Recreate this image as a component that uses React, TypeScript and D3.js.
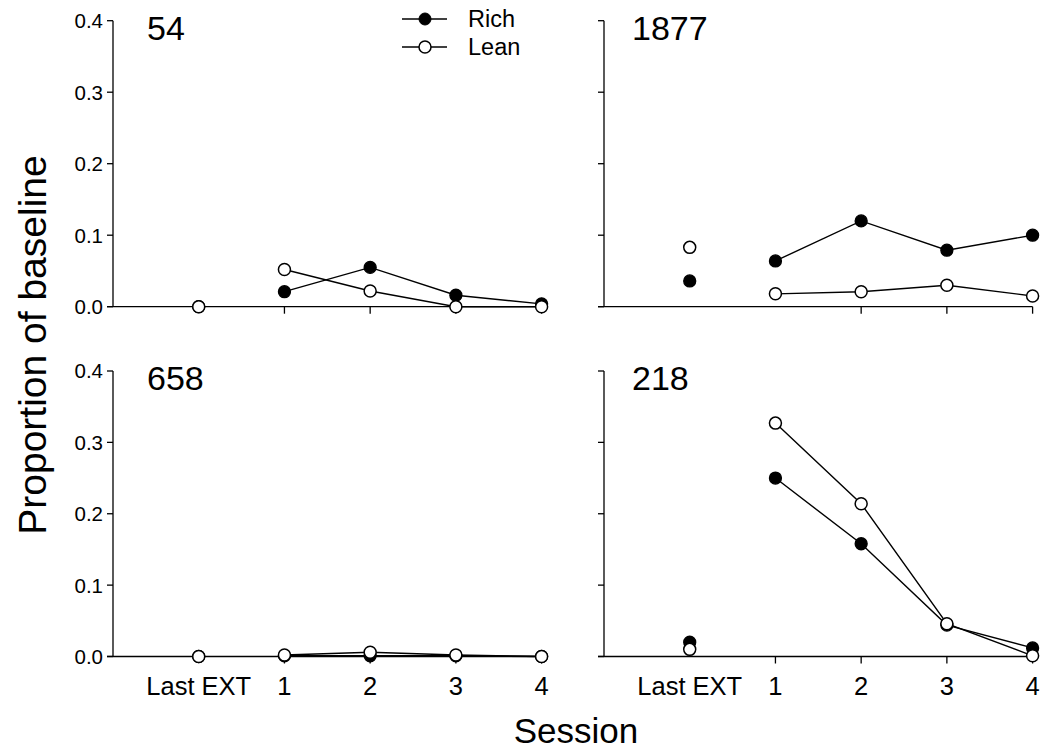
import React from "react";
import * as d3 from "d3";

const xLabels = ["Last EXT", "1", "2", "3", "4"];
const xPositions = [0, 1, 2, 3, 4];
const yTicks = [0, 0.1, 0.2, 0.3, 0.4];

const subjects = ["54", "1877", "658", "218"];
const rich54 = [0, 0.021, 0.055, 0.016, 0.004];
const lean54 = [0, 0.052, 0.022, 0, 0];
const rich1877 = [0.036, 0.064, 0.12, 0.079, 0.1];
const lean1877 = [0.083, 0.018, 0.021, 0.03, 0.015];
const rich658 = [0, 0.001, 0.001, 0.001, 0];
const lean658 = [0, 0.002, 0.006, 0.002, 0];
const rich218 = [0.02, 0.25, 0.158, 0.044, 0.012];
const lean218 = [0.01, 0.327, 0.214, 0.046, 0.001];

const panelData = [
  { rich: rich54, lean: lean54, xTicks: [1, 2, 3, 4], col: 0, row: 0 },
  { rich: rich1877, lean: lean1877, xTicks: [2, 3, 4], col: 1, row: 0 },
  { rich: rich658, lean: lean658, xTicks: [1, 2, 3, 4], col: 0, row: 1 },
  { rich: rich218, lean: lean218, xTicks: [1, 2, 3, 4], col: 1, row: 1 },
];

const FONT = "'Liberation Sans', Arial, Helvetica, sans-serif";
const colX = [113, 604];
const rowY = [
  [306.7, 20.7],
  [656.5, 371],
];
const PW = 428.6;
const R = 6;

function Panel({ idx }: { idx: number }) {
  const p = panelData[idx];
  const x = d3.scaleLinear().domain([-1, 4]).range([colX[p.col], colX[p.col] + PW]);
  const y = d3.scaleLinear().domain([0, 0.4]).range(rowY[p.row]);
  const line = d3
    .line<number>()
    .x((_, i) => x(xPositions[i + 1]))
    .y((d) => y(d));
  const x0 = colX[p.col];
  const showYLabels = p.col === 0;
  const showXLabels = p.row === 1;
  return (
    <g>
      <line x1={x0} x2={x0} y1={y(0.4)} y2={y(0)} stroke="#000" strokeWidth={1.3} />
      <line x1={x0 - 6} x2={x(4)} y1={y(0)} y2={y(0)} stroke="#000" strokeWidth={1.3} />
      {yTicks.map((t) => (
        <g key={t}>
          <line x1={x0 - 6} x2={x0} y1={y(t)} y2={y(t)} stroke="#000" strokeWidth={1.3} />
          {showYLabels && (
            <text x={x0 - 10} y={y(t)} dy="0.36em" textAnchor="end" fontSize={20.5} fontFamily={FONT}>
              {t.toFixed(1)}
            </text>
          )}
        </g>
      ))}
      {p.xTicks.map((t) => (
        <line key={t} x1={x(t)} x2={x(t)} y1={y(0)} y2={y(0) + 7} stroke="#000" strokeWidth={1.3} />
      ))}
      {showXLabels &&
        xPositions.map((t, i) => (
          <text key={t} x={x(t)} y={695} textAnchor="middle" fontSize={25.5} fontFamily={FONT}>
            {xLabels[i]}
          </text>
        ))}
      <text
        x={x0 + (p.col === 0 ? 34 : 28)}
        y={p.row === 0 ? 40 : 390}
        fontSize={34}
        fontFamily={FONT}
      >
        {subjects[idx]}
      </text>
      <path d={line(p.rich.slice(1)) || ""} fill="none" stroke="#000" strokeWidth={1.4} />
      <path d={line(p.lean.slice(1)) || ""} fill="none" stroke="#000" strokeWidth={1.4} />
      {p.rich.map((v, i) => (
        <circle key={"r" + i} cx={x(xPositions[i])} cy={y(v)} r={R} fill="#000" stroke="#000" strokeWidth={1.3} />
      ))}
      {p.lean.map((v, i) => (
        <circle key={"l" + i} cx={x(xPositions[i])} cy={y(v)} r={R} fill="#fff" stroke="#000" strokeWidth={1.5} />
      ))}
    </g>
  );
}

export default function App() {
  return (
    <svg
      width={1046}
      height={750}
      style={{ position: "absolute", left: 0, top: 0, background: "#fff" }}
    >
      <rect width={1046} height={750} fill="#fff" />
      {panelData.map((_, i) => (
        <Panel key={i} idx={i} />
      ))}
      <g>
        <line x1={402} x2={447} y1={19} y2={19} stroke="#000" strokeWidth={1.4} />
        <circle cx={425} cy={19} r={R} fill="#000" stroke="#000" />
        <text x={468} y={27} fontSize={23.5} fontFamily={FONT}>Rich</text>
        <line x1={402} x2={447} y1={47} y2={47} stroke="#000" strokeWidth={1.4} />
        <circle cx={425} cy={47} r={R} fill="#fff" stroke="#000" strokeWidth={1.5} />
        <text x={468} y={55} fontSize={23.5} fontFamily={FONT}>Lean</text>
      </g>
      <text x={576} y={743} textAnchor="middle" fontSize={35} fontFamily={FONT}>
        Session
      </text>
      <text
        transform="translate(46,345) rotate(-90)"
        textAnchor="middle"
        fontSize={39}
        fontFamily={FONT}
      >
        Proportion of baseline
      </text>
    </svg>
  );
}
